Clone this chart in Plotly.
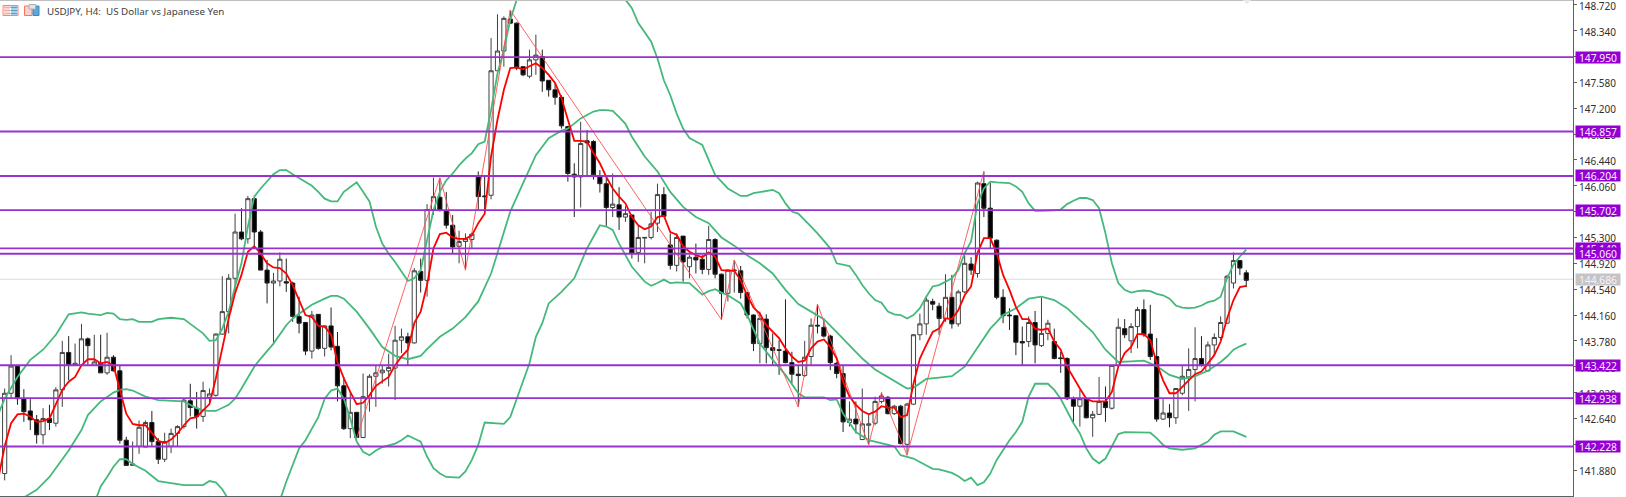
import plotly.graph_objects as go

opens = [141.83,143.01,143.41,142.93,142.75,142.62,142.40,142.64,142.57,143.06,
143.61,143.42,143.42,143.81,143.42,143.45,143.31,143.54,143.34,142.32,
141.95,142.23,142.22,142.58,142.30,142.04,142.23,142.42,142.52,142.90,
142.79,142.67,142.95,142.98,143.88,144.21,144.70,145.38,145.28,145.87,
145.38,144.82,144.63,144.66,144.65,144.63,144.14,
144.05,143.63,144.17,143.67,144.00,143.70,143.12,142.49,142.73,142.36,142.93,143.26,143.31,143.34,143.38,143.79,143.84,143.75,144.80,144.67,145.71,145.89,145.69,145.48,145.17,145.24,145.27,146.19,145.91,145.92,147.75,148.04,148.51,148.45,147.81,147.67,147.91,147.96,147.61,147.47,147.36,146.93,146.23,146.19,146.72,146.71,146.19,
146.09,145.74,145.78,145.60,145.63,145.08,145.29,145.30,145.51,145.93,145.19,144.89,145.32,144.87,145.01,144.98,144.83,145.27,144.76,144.48,144.81,144.81,144.49,144.16,143.74,144.10,143.68,143.65,143.63,143.46,143.29,143.27,143.55,144.01,143.98,143.85,143.45,143.30,142.58,142.63,142.33,142.54,142.57,142.89,142.95,142.71,142.82,
142.26,142.85,143.87,144.03,144.36,144.29,144.11,144.42,144.03,144.50,144.91,144.77,146.09,145.73,145.26,144.42,144.16,144.15,143.77,143.77,144.05,143.71,143.89,143.77,143.53,143.52,142.92,142.82,142.93,142.65,142.70,142.89,142.79,143.42,143.96,143.78,143.99,144.24,143.88,143.55,142.63,142.72,142.65,143.01,143.25,143.36,143.52,143.34,143.72,143.83,144.04,144.63,144.96,144.78]

highs = [143.08,143.57,143.42,143.07,142.93,142.69,142.79,142.84,143.10,143.78,143.85,143.74,144.03,143.83,143.87,143.87,143.90,143.57,143.42,142.37,142.30,142.61,142.61,142.75,142.35,142.43,142.49,142.54,142.93,143.15,143.03,143.18,143.08,143.89,144.73,144.76,145.65,145.73,145.91,145.88,145.41,144.97,144.78,145.08,144.99,144.65,144.43,
144.06,144.22,144.17,144.00,144.27,143.91,143.25,143.03,142.73,143.30,143.29,143.42,143.42,143.59,144.00,143.96,143.90,144.85,144.99,145.79,146.18,146.17,145.97,145.63,145.40,145.36,145.37,146.27,146.19,148.23,148.58,148.55,148.64,148.46,147.81,148.06,148.28,148.06,147.61,147.57,147.39,146.94,146.39,147.00,146.88,146.73,146.29,
146.19,146.24,146.04,145.76,145.63,145.47,145.30,145.68,146.09,146.04,145.36,145.36,145.32,145.04,145.21,145.04,145.47,145.29,144.77,144.83,144.97,144.88,144.50,144.17,144.21,144.17,143.89,143.79,144.39,143.62,143.42,143.78,144.11,144.32,144.11,143.87,143.47,143.42,142.89,142.89,143.08,142.69,142.96,143.02,142.97,142.84,142.84,
142.87,143.88,144.18,144.43,144.40,144.34,144.76,144.75,144.53,145.04,145.01,146.12,146.27,146.10,145.27,144.54,144.26,144.16,143.99,144.14,144.22,144.42,144.09,143.96,143.62,143.54,142.96,143.06,142.95,142.75,143.25,143.11,143.42,144.11,144.10,144.04,144.28,144.39,144.31,143.82,142.93,142.85,143.08,143.41,143.67,143.98,143.85,143.77,143.89,144.14,144.75,145.08,144.97,144.82]

lows = [141.73,142.93,142.84,142.59,142.47,142.27,142.26,142.47,142.52,142.81,143.20,143.42,143.42,143.42,143.42,143.31,143.28,143.33,142.27,141.95,141.95,142.12,142.22,142.22,141.97,142.00,142.13,142.23,142.49,142.67,142.49,142.59,142.86,142.96,143.87,143.89,144.48,145.26,145.21,145.16,144.82,144.33,143.72,144.58,144.50,144.06,143.89,
143.57,143.52,143.65,143.55,143.64,142.89,142.47,142.35,142.35,142.35,142.74,142.81,143.15,143.11,142.91,143.60,143.42,143.74,144.49,144.43,145.63,145.68,145.43,145.06,144.92,144.82,145.14,145.70,145.70,145.86,147.74,147.81,148.44,147.76,147.67,147.64,147.69,147.44,147.37,147.25,146.90,146.12,145.60,145.74,146.19,146.15,145.96,
145.47,145.60,145.41,145.53,144.99,144.94,144.92,145.27,145.38,145.60,144.83,144.80,144.65,144.70,144.77,144.76,144.75,144.70,144.09,144.36,144.49,144.40,144.11,143.63,143.45,143.45,143.42,143.28,143.45,143.15,142.81,143.25,143.42,143.89,143.83,143.35,143.23,142.44,142.52,142.42,142.32,142.25,142.54,142.86,142.70,142.69,142.26,
142.10,142.84,143.79,143.87,144.23,143.87,144.06,143.96,143.99,144.48,144.75,144.71,145.60,145.14,144.39,144.04,143.94,143.57,143.42,143.69,143.45,143.69,143.79,143.51,143.31,142.91,142.59,142.52,142.64,142.37,142.69,142.59,142.77,143.40,143.82,143.60,143.67,143.84,143.50,142.59,142.62,142.51,142.56,142.98,142.75,142.89,143.40,143.33,143.57,143.79,144.03,144.55,144.75,144.57]

closes = [143.01,143.41,142.93,142.74,142.62,142.40,142.64,142.58,143.06,143.61,143.42,143.45,143.81,143.71,143.47,143.31,143.54,143.34,142.32,141.95,141.97,142.51,142.58,142.30,142.04,142.30,142.42,142.52,142.91,142.80,142.67,143.05,143.00,143.88,144.21,144.70,145.38,145.28,145.87,145.38,144.82,144.63,144.66,144.98,144.63,144.14,144.04,
143.63,144.16,143.67,144.00,143.69,143.12,142.49,142.73,142.36,142.96,143.26,143.31,143.35,143.39,143.79,143.84,143.75,144.81,144.67,145.71,145.90,145.70,145.48,145.16,145.24,145.28,145.35,145.90,145.90,147.75,148.04,148.52,148.45,147.79,147.69,147.91,147.98,147.60,147.47,147.36,146.94,146.24,146.19,146.68,146.69,146.22,146.09,
145.74,145.79,145.60,145.65,145.07,145.30,145.30,145.50,145.93,145.61,144.89,145.30,144.94,145.01,144.97,144.83,145.27,144.76,144.48,144.82,144.82,144.49,144.16,143.74,144.11,143.68,143.64,143.64,143.46,143.29,143.27,143.54,144.01,144.00,143.85,143.46,143.30,142.59,142.63,142.56,142.56,142.56,142.89,142.97,142.71,142.82,142.27,
142.85,143.87,144.03,144.38,144.32,144.11,144.42,144.03,144.50,144.92,144.82,146.10,145.73,145.29,144.42,144.15,144.15,143.76,143.75,144.05,143.72,143.89,144.04,143.52,143.52,142.93,142.82,142.93,142.65,142.70,142.89,142.80,143.42,143.98,143.87,143.99,144.24,143.87,143.55,142.63,142.72,142.65,143.08,143.26,143.36,143.52,143.42,143.72,143.83,144.05,144.73,144.96,144.85,144.67]

ma_values = [141.75,
142.23,142.57,142.70,142.71,142.67,142.59,142.60,142.64,142.84,143.06,143.18,143.25,143.42,143.51,143.51,143.45,143.47,143.42,143.06,142.71,142.56,142.54,142.54,142.42,142.31,142.28,142.33,142.42,142.54,142.64,142.66,142.76,142.85,143.23,143.69,144.11,144.48,144.75,145.09,145.17,145.06,144.92,144.86,144.85,144.77,144.60,144.38,
144.16,144.13,144.00,143.99,143.87,143.47,143.23,143.03,142.85,142.87,142.98,143.12,143.18,143.25,143.42,143.55,143.65,144.04,144.21,144.60,145.14,145.35,145.37,145.30,145.28,145.28,145.33,145.51,145.65,146.49,147.03,147.47,147.79,147.80,147.77,147.81,147.86,147.79,147.69,147.57,147.35,147.03,146.72,146.72,146.71,146.54,146.39,
146.19,146.02,145.90,145.80,145.60,145.48,145.42,145.46,145.60,145.62,145.38,145.34,145.17,145.09,145.04,145.01,145.08,145.02,144.82,144.81,144.81,144.67,144.45,144.27,144.18,144.01,143.91,143.82,143.67,143.55,143.47,143.49,143.67,143.77,143.80,143.69,143.52,143.18,142.96,142.84,142.75,142.70,142.74,142.82,142.80,142.80,142.66,
142.69,143.15,143.52,143.72,143.91,143.96,144.11,144.10,144.23,144.45,144.58,145.07,145.29,145.29,145.07,144.75,144.53,144.28,144.10,144.10,143.96,143.94,143.96,143.77,143.65,143.40,143.23,143.08,142.93,142.89,142.89,142.89,143.03,143.40,143.60,143.69,143.88,143.88,143.79,143.45,143.20,143.01,143.01,143.11,143.20,143.29,143.33,143.45,143.57,143.77,144.11,144.38,144.57,144.59]

upper_idx = [-1,0,2,4,6,8,10,12,13,15,16,17,18,19,20,21,23,24,26,28,30,31,32,33,34,35,36,37,38,39,40,41,42,43,44,45,46,
48,49,50,51,52,53,55,56,57,58,59,60,61,62,63,64,65,66,67,68,69,70,71,72,73,74,75,76,77,78,79,80,84,88,92,
97.2,98,99,100,101,102,103,104,105,106,107,108,109,110,111,112,113,115,116,117,118,120,121,122,123,124,126,127,129,130,132,133,134,135,136,137,138,139,140,
141,142,143,144,145,146,147,148,149,150,151,152,153,154,155,156,157,158,159,160,161,162,163,164,165,166,167,168,169,170,171,172,173,174,175,176,177,178,179,180,181,182,183,184,185,186,187,188,189,190,191,192,193,194]
upper_val = [142.70,142.93,143.25,143.50,143.65,143.87,144.17,144.20,144.18,144.16,144.19,144.18,144.10,144.09,144.10,144.06,144.06,144.10,144.12,144.10,143.96,143.89,143.78,143.79,143.96,144.21,144.58,144.92,145.46,145.90,146.02,146.12,146.23,146.29,146.29,146.23,146.17,
146.06,145.97,145.87,145.83,145.83,145.97,146.11,145.97,145.83,145.46,145.21,145.06,144.94,144.80,144.66,144.70,144.82,145.26,145.70,145.97,146.14,146.24,146.36,146.46,146.54,146.67,146.71,147.17,147.71,148.06,148.50,148.79,149.20,149.30,149.10,
148.77,148.67,148.45,148.32,148.18,147.93,147.61,147.39,147.12,146.90,146.76,146.71,146.66,146.44,146.22,146.12,146.02,145.91,145.91,145.95,145.97,146.00,145.95,145.80,145.68,145.65,145.46,145.36,145.14,144.92,144.88,144.75,144.60,144.48,144.38,144.34,144.21,144.17,144.16,
144.11,144.16,144.26,144.43,144.58,144.60,144.65,144.70,144.82,145.07,145.24,145.80,146.02,146.12,146.11,146.11,146.10,146.05,145.97,145.80,145.69,145.69,145.69,145.70,145.71,145.79,145.84,145.88,145.88,145.85,145.73,145.36,144.92,144.63,144.53,144.49,144.51,144.52,144.51,144.47,144.45,144.40,144.30,144.27,144.26,144.27,144.30,144.35,144.37,144.43,144.70,144.90,145.02,145.12]

middle_idx = [3.2,5,7,9,10,12,13,15,17,18,19,20,22,24,26,28,30,31,32,33,35,36,37,39,40,42,44,45,46,
48,50,51,52,53,55,57,59,61,63,65,66,68,70,72,74,76,77,79,81,83,85,87,88,90,92,93,
94,95,96,97,98,100,102,104,106,108,110,112,114,116,118,120,122,124,126,128,130,132,134,136,138,140,
141,142,143,144,146,148,150,152,154,156,158,159,160,162,164,166,168,170,172,174,176,178,180,182,184,186,188,190,191,192,193,194]
middle_val = [141.49,141.59,141.78,142.05,142.17,142.47,142.69,142.89,143.02,143.06,143.07,143.05,142.96,142.91,142.90,142.89,142.79,142.76,142.75,142.75,142.84,142.93,143.08,143.40,143.52,143.74,144.01,144.11,144.18,
144.31,144.40,144.44,144.44,144.40,144.21,143.96,143.69,143.56,143.51,143.56,143.66,143.84,143.96,144.13,144.36,144.77,145.07,145.68,146.10,146.51,146.76,146.87,146.90,147.05,147.15,147.17,
147.17,147.16,147.07,146.97,146.78,146.49,146.27,145.97,145.75,145.60,145.51,145.30,145.18,145.04,144.92,144.77,144.53,144.32,144.21,144.10,143.91,143.72,143.52,143.36,143.25,143.13,
143.08,143.09,143.15,143.22,143.24,143.26,143.40,143.69,143.96,144.16,144.26,144.33,144.40,144.43,144.38,144.26,144.09,143.91,143.65,143.47,143.48,143.49,143.41,143.28,143.22,143.26,143.34,143.47,143.55,143.65,143.70,143.74]

lower_idx = [5,10,14.4,15,16,17,18,19,20,22,24,26,28,31,32,33,34,34.7,38,41,43.2,44,45,46,
47,48,49,50,51,52,53,54,55,56,57,58,59,61,62,63,65,66,67,68,69,71,72,73,74,75,76,78,79,80,81,82,83,84,85,87,89,90,91,92,93,
94,95,96,98,100,101,102,103,104,105,107,108,109,110,111,112,113,115,116,118,120,122,124,125,128,129,130,131,133,135,137,139,140,
141,142,143,144,145,146,147,148,149,150,151,152,153,154,155,157,158,159,160,161,163,164,165,166,167,168,169,170,171,172,173,174,175,177,179,180,181,182,184,186,188,189,190,191,192,193,194]
lower_val = [140.60,141.00,141.49,141.64,141.78,141.93,142.04,142.04,141.97,141.87,141.72,141.69,141.66,141.66,141.72,141.70,141.60,141.49,141.10,141.10,141.49,141.71,141.95,142.20,
142.32,142.49,142.66,142.93,143.05,143.08,142.93,142.64,142.30,142.15,142.10,142.17,142.22,142.27,142.32,142.39,142.30,142.08,141.91,141.83,141.78,141.77,141.86,142.03,142.25,142.58,142.57,142.56,142.66,142.93,143.20,143.45,143.84,144.04,144.33,144.50,144.70,144.92,145.14,145.31,145.48,
145.46,145.41,145.21,144.87,144.65,144.59,144.63,144.68,144.63,144.64,144.63,144.55,144.46,144.51,144.54,144.49,144.45,144.33,144.16,143.74,143.50,143.28,143.01,142.95,142.95,142.91,142.92,142.71,142.44,142.32,142.27,142.23,142.10,
142.07,142.05,142.00,141.95,141.90,141.89,141.86,141.84,141.79,141.72,141.77,141.66,141.70,141.83,142.03,142.32,142.44,142.59,142.96,143.15,143.15,143.06,142.93,142.74,142.57,142.42,142.20,142.05,141.98,142.05,142.22,142.41,142.44,142.43,142.43,142.35,142.25,142.20,142.18,142.20,142.30,142.40,142.45,142.45,142.45,142.41,142.37]

zigzag_idx = [55,68,72,79,112,114,124,127,135,137,141,153]
zigzag_val = [142.35,146.18,144.82,148.64,144.09,144.97,142.81,144.32,142.25,143.02,142.10,146.27]

level_values = [147.950,146.857,146.204,145.702,145.140,145.060,143.422,142.938,142.228]
bid_value = 144.686
tick_values = [148.72,148.34,147.96,147.58,147.20,146.82,146.44,146.06,145.68,145.30,144.92,144.54,144.16,143.78,143.40,143.02,142.64,142.26,141.88]
title_text = "USDJPY, H4:  US Dollar vs Japanese Yen"

W, H = 1626, 497
PW, PH = 1573, 496
FONT = "Noto Sans"
VIOLET = "#9932CC"
LABEL = "#9400D3"
GREEN = "#45B97C"

fig = go.Figure()
idx = list(range(len(opens)))
for xs, ys in [(upper_idx, upper_val), (middle_idx, middle_val), (lower_idx, lower_val)]:
    fig.add_trace(go.Scatter(x=xs, y=ys, mode="lines", line=dict(color=GREEN, width=1.8), hoverinfo="skip"))
fig.add_trace(go.Scatter(x=zigzag_idx, y=zigzag_val, mode="lines", line=dict(color="#FF5050", width=0.9), hoverinfo="skip"))
fig.add_trace(go.Candlestick(
    x=idx, open=opens, high=highs, low=lows, close=closes, whiskerwidth=0,
    increasing=dict(line=dict(color="#404040", width=1), fillcolor="#FFFFFF"),
    decreasing=dict(line=dict(color="#202020", width=1), fillcolor="#000000"),
))
fig.add_trace(go.Scatter(x=list(range(-1, len(ma_values) - 1)), y=ma_values, mode="lines",
                         line=dict(color="#FF0000", width=1.8), hoverinfo="skip"))

shapes = [dict(type="line", xref="paper", x0=0, x1=1, yref="y", y0=bid_value, y1=bid_value,
               line=dict(color="#DCDCDC", width=1.2), layer="below"),
          dict(type="line", xref="paper", x0=0, x1=1, yref="paper", y0=1, y1=1,
               line=dict(color="#C0C0C0", width=2), layer="above")]
for v in level_values:
    shapes.append(dict(type="line", xref="paper", x0=0, x1=1, yref="y", y0=v, y1=v,
                       line=dict(color=VIOLET, width=1.9), layer="above"))

def px(a): return a / PW
def py(a): return 1 - a / PH
def rect(x0, y0, x1, y1, fill, line):
    return dict(type="rect", xref="paper", yref="paper", x0=px(x0), x1=px(x1), y0=py(y0), y1=py(y1),
                fillcolor=fill, line=dict(color=line, width=1), layer="above")
# toolbar-like icons beside the title and the pale chart-shift marker on the top edge
shapes += [rect(3, 5.5, 18, 15.5, "#FFFFFF", "#F08878"),
           rect(4, 7, 10, 8, "#F8B0A4", "#F8B0A4"), rect(4, 10, 10, 11, "#F8B0A4", "#F8B0A4"),
           rect(4, 13, 10, 14, "#F8B0A4", "#F8B0A4"),
           rect(11, 7, 17, 8, "#5AA0D0", "#5AA0D0"), rect(11, 10, 17, 11, "#5AA0D0", "#5AA0D0"),
           rect(11, 13, 17, 14, "#5AA0D0", "#5AA0D0"),
           rect(24.5, 6, 32, 15.5, "#FAD0CA", "#F07868"),
           rect(33, 6, 39, 15.5, "#5AA8DA", "#3A88C0"),
           rect(29, 4.5, 35.5, 9, "#E4E4E4", "#B0B0B0"),
           dict(type="path", xref="paper", yref="paper", layer="above", line=dict(width=0), fillcolor="#F3E4F3",
                path=f"M {px(1243)} {py(0)} L {px(1251)} {py(0)} L {px(1247)} {py(4.5)} Z")]

annotations = [dict(xref="paper", yref="paper", x=px(45), y=py(11), xanchor="left", yanchor="middle",
                    text=title_text, showarrow=False, font=dict(family=FONT, size=9.8, color="#404040"))]
# axis price labels come first so the level tags sit on top of them, as in the reference
for v in tick_values:
    annotations.append(dict(xref="paper", yref="y", x=1, y=v, xanchor="left", yanchor="middle", xshift=5, yshift=-0.5,
                            text=f"{v:.3f}", showarrow=False, borderpad=0, height=11,
                            font=dict(family=FONT, size=10, color="#303030")))
for v, bg in [(bid_value, "#C4C4C4")] + [(v, LABEL) for v in level_values]:
    annotations.append(dict(xref="paper", yref="y", x=1, y=v, xanchor="left", yanchor="middle", xshift=2,
                            text=f"{v:.3f}", showarrow=False, bgcolor=bg, borderpad=0, width=44, height=11,
                            align="center", font=dict(family=FONT, size=10.3, color="#FBEFFF")))

fig.update_layout(
    width=W, height=H, showlegend=False, paper_bgcolor="white", plot_bgcolor="white",
    margin=dict(l=0, r=W - PW, t=0, b=1, autoexpand=False), boxgap=0.35, boxgroupgap=0, boxmode="overlay",
    xaxis=dict(range=[-0.73, 245.05], rangeslider=dict(visible=False), showgrid=False, zeroline=False,
               showticklabels=False, ticks="", showline=True, linecolor="#606060", linewidth=1, fixedrange=True),
    yaxis=dict(range=[141.50, 148.79], side="right", showgrid=False, zeroline=False, tickmode="array",
               tickvals=tick_values, showticklabels=False, ticks="outside", ticklen=3, tickcolor="#606060",
               automargin=False, showline=True, linecolor="#606060", linewidth=1, fixedrange=True),
    shapes=shapes, annotations=annotations,
)
fig.write_html("out.html", config=dict(displayModeBar=False),
               post_script="document.body.style.margin='0';document.body.style.overflow='hidden';")
